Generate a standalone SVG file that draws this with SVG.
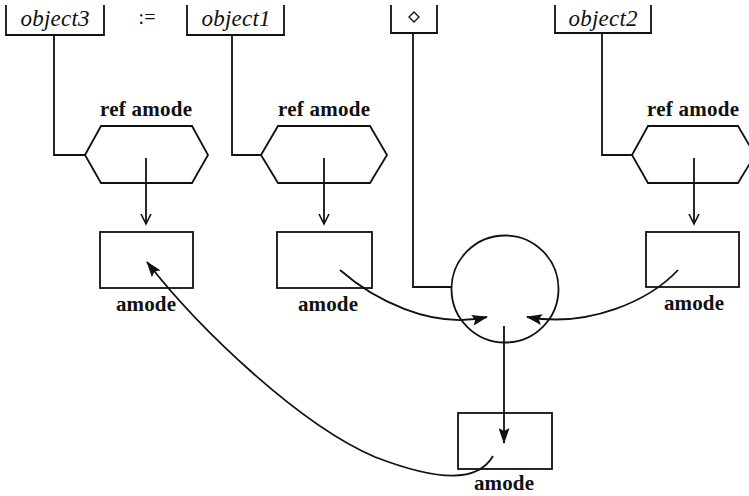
<svg xmlns="http://www.w3.org/2000/svg" width="749" height="496" viewBox="0 0 749 496">
<defs>
<style>
.ln{fill:none;stroke:#111;stroke-width:1.8}
.lab{font-family:"Liberation Serif",serif;font-weight:bold;font-size:21px;fill:#111;text-anchor:middle}
.var{font-family:"Liberation Serif",serif;font-style:italic;font-size:23px;fill:#111;text-anchor:middle}
</style>
<marker id="open" markerWidth="12" markerHeight="12" refX="10" refY="5" orient="auto" markerUnits="userSpaceOnUse" viewBox="0 0 12 10">
<path d="M0,0 L10,5 L0,10" fill="none" stroke="#111" stroke-width="1.6"/>
</marker>
<marker id="fill" markerWidth="16" markerHeight="11" refX="15" refY="5.5" orient="auto" markerUnits="userSpaceOnUse" viewBox="0 0 16 11">
<path d="M0,0 L16,5.5 L0,11 L3,5.5 Z" fill="#111"/>
</marker>
</defs>
<rect width="749" height="496" fill="#fff"/>

<g id="object3">
<path class="ln" d="M6,5 V35 H104 V5"/>
<text class="var" x="55" y="26" textLength="69">object3</text>
</g>
<g id="assign"><text x="147" y="24" font-family="Liberation Serif,serif" font-size="20" text-anchor="middle" fill="#111">:=</text></g>
<g id="object1">
<path class="ln" d="M187,5 V35 H284 V5"/>
<text class="var" x="236" y="26" textLength="69">object1</text>
</g>
<g id="diamondbox">
<path class="ln" d="M391,5 V33 H437 V5"/>
<path d="M414,12 L419,17 L414,22 L409,17 Z" fill="none" stroke="#111" stroke-width="1.3"/>
</g>
<g id="object2">
<path class="ln" d="M555,5 V33 H651 V5"/>
<text class="var" x="603" y="26" textLength="69">object2</text>
</g>

<g id="ref1">
<polygon class="ln" points="85,155 101,126 192,126 208,155 192,183 101,183"/>
<text class="lab" x="146" y="116" textLength="92">ref amode</text>
</g>
<g id="ref2">
<polygon class="ln" points="261,155 278,126 370,126 387,155 370,183 278,183"/>
<text class="lab" x="324" y="116" textLength="92">ref amode</text>
</g>
<g id="ref3">
<polygon class="ln" points="632,155 648,126 738,126 755,155 738,183 648,183"/>
<text class="lab" x="693" y="116" textLength="92">ref amode</text>
</g>

<g id="amode1">
<rect class="ln" x="100" y="232" width="93" height="56"/>
<text class="lab" x="146" y="311" textLength="60">amode</text>
</g>
<g id="amode2">
<rect class="ln" x="277" y="232" width="95" height="56"/>
<text class="lab" x="328" y="311" textLength="60">amode</text>
</g>
<g id="amode3">
<rect class="ln" x="646" y="232" width="93" height="55"/>
<text class="lab" x="694" y="310" textLength="60">amode</text>
</g>
<g id="amode4">
<rect class="ln" x="458" y="413" width="94" height="56"/>
<text class="lab" x="504" y="490" textLength="60">amode</text>
</g>

<g id="op">
<circle class="ln" cx="505" cy="289" r="53.5"/>
</g>

<g id="connectors">
<path class="ln" d="M54,35 V155 H85"/>
<path class="ln" d="M232,35 V155 H261"/>
<path class="ln" d="M413,33 V287 H452"/>
<path class="ln" d="M602,33 V155 H632"/>
<path class="ln" d="M146,158 V224" marker-end="url(#open)"/>
<path class="ln" d="M324,158 V224" marker-end="url(#open)"/>
<path class="ln" d="M694,158 V224" marker-end="url(#open)"/>
<path class="ln" d="M340,270 C372,298 430,330 487,317" marker-end="url(#fill)"/>
<path class="ln" d="M678,270 C650,300 590,328 527,317" marker-end="url(#fill)"/>
<path class="ln" d="M504,326 V443" marker-end="url(#fill)"/>
<path class="ln" d="M493,456 C478,482 440,482 375,457 C300,425 200,330 147,262" marker-end="url(#fill)"/>
</g>
</svg>
